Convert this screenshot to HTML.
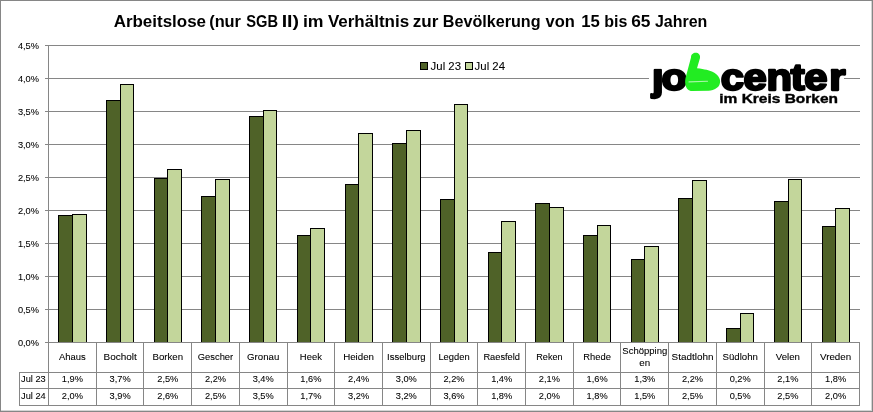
<!DOCTYPE html>
<html lang="de"><head><meta charset="utf-8"><title>Arbeitslose (nur SGB II)</title>
<style>html,body{margin:0;padding:0;background:#fff;overflow:hidden}svg{display:block}text{font-family:"Liberation Sans",sans-serif;fill:#000}.s{font-size:9.6px;stroke:#000;stroke-width:0.08px}.l{font-size:11.6px;stroke:#000;stroke-width:0.08px}.t{font-size:16px;font-weight:bold}</style></head><body>
<svg width="873" height="412" viewBox="0 0 873 412">
<rect x="0" y="0" width="873" height="412" fill="#fff"/>
<g shape-rendering="crispEdges" fill="#868686">
<rect x="0" y="0" width="873" height="1"/><rect x="0" y="0" width="1" height="412"/>
<rect x="871" y="1" width="1" height="410" fill="#d4d4d4"/><rect x="1" y="410" width="871" height="1" fill="#d4d4d4"/>
<rect x="872" y="0" width="1" height="412"/><rect x="0" y="411" width="873" height="1"/>
<rect x="45" y="45" width="815" height="1"/>
<rect x="45" y="78" width="815" height="1"/>
<rect x="45" y="111" width="815" height="1"/>
<rect x="45" y="144" width="815" height="1"/>
<rect x="45" y="177" width="815" height="1"/>
<rect x="45" y="210" width="815" height="1"/>
<rect x="45" y="243" width="815" height="1"/>
<rect x="45" y="276" width="815" height="1"/>
<rect x="45" y="309" width="815" height="1"/>
<rect x="48" y="45" width="1" height="361"/>
<rect x="96" y="342" width="1" height="64"/>
<rect x="143" y="342" width="1" height="64"/>
<rect x="191" y="342" width="1" height="64"/>
<rect x="239" y="342" width="1" height="64"/>
<rect x="287" y="342" width="1" height="64"/>
<rect x="334" y="342" width="1" height="64"/>
<rect x="382" y="342" width="1" height="64"/>
<rect x="430" y="342" width="1" height="64"/>
<rect x="477" y="342" width="1" height="64"/>
<rect x="525" y="342" width="1" height="64"/>
<rect x="573" y="342" width="1" height="64"/>
<rect x="620" y="342" width="1" height="64"/>
<rect x="668" y="342" width="1" height="64"/>
<rect x="716" y="342" width="1" height="64"/>
<rect x="764" y="342" width="1" height="64"/>
<rect x="811" y="342" width="1" height="64"/>
<rect x="859" y="342" width="1" height="64"/>
<rect x="19" y="372" width="841" height="1"/>
<rect x="19" y="388" width="841" height="1"/>
<rect x="19" y="405" width="841" height="1"/>
<rect x="19" y="372" width="1" height="34"/>
</g>
<g stroke="#000" stroke-width="1">
<rect x="58.5" y="215.5" width="14" height="127.0" fill="#4F6228"/>
<rect x="72.5" y="214.5" width="14" height="128.0" fill="#C3D69B"/>
<rect x="106.5" y="100.5" width="14" height="242.0" fill="#4F6228"/>
<rect x="120.5" y="84.5" width="13" height="258.0" fill="#C3D69B"/>
<rect x="154.5" y="178.5" width="13" height="164.0" fill="#4F6228"/>
<rect x="167.5" y="169.5" width="14" height="173.0" fill="#C3D69B"/>
<rect x="201.5" y="196.5" width="14" height="146.0" fill="#4F6228"/>
<rect x="215.5" y="179.5" width="14" height="163.0" fill="#C3D69B"/>
<rect x="249.5" y="116.5" width="14" height="226.0" fill="#4F6228"/>
<rect x="263.5" y="110.5" width="13" height="232.0" fill="#C3D69B"/>
<rect x="297.5" y="235.5" width="13" height="107.0" fill="#4F6228"/>
<rect x="310.5" y="228.5" width="14" height="114.0" fill="#C3D69B"/>
<rect x="345.5" y="184.5" width="13" height="158.0" fill="#4F6228"/>
<rect x="358.5" y="133.5" width="14" height="209.0" fill="#C3D69B"/>
<rect x="392.5" y="143.5" width="14" height="199.0" fill="#4F6228"/>
<rect x="406.5" y="130.5" width="14" height="212.0" fill="#C3D69B"/>
<rect x="440.5" y="199.5" width="14" height="143.0" fill="#4F6228"/>
<rect x="454.5" y="104.5" width="13" height="238.0" fill="#C3D69B"/>
<rect x="488.5" y="252.5" width="13" height="90.0" fill="#4F6228"/>
<rect x="501.5" y="221.5" width="14" height="121.0" fill="#C3D69B"/>
<rect x="535.5" y="203.5" width="14" height="139.0" fill="#4F6228"/>
<rect x="549.5" y="207.5" width="14" height="135.0" fill="#C3D69B"/>
<rect x="583.5" y="235.5" width="14" height="107.0" fill="#4F6228"/>
<rect x="597.5" y="225.5" width="13" height="117.0" fill="#C3D69B"/>
<rect x="631.5" y="259.5" width="13" height="83.0" fill="#4F6228"/>
<rect x="644.5" y="246.5" width="14" height="96.0" fill="#C3D69B"/>
<rect x="678.5" y="198.5" width="14" height="144.0" fill="#4F6228"/>
<rect x="692.5" y="180.5" width="14" height="162.0" fill="#C3D69B"/>
<rect x="726.5" y="328.5" width="14" height="14.0" fill="#4F6228"/>
<rect x="740.5" y="313.5" width="13" height="29.0" fill="#C3D69B"/>
<rect x="774.5" y="201.5" width="14" height="141.0" fill="#4F6228"/>
<rect x="788.5" y="179.5" width="13" height="163.0" fill="#C3D69B"/>
<rect x="822.5" y="226.5" width="13" height="116.0" fill="#4F6228"/>
<rect x="835.5" y="208.5" width="14" height="134.0" fill="#C3D69B"/>
</g>
<rect x="45" y="342" width="815" height="1" fill="#868686" shape-rendering="crispEdges"/>
<g class="s" text-anchor="end">
<text x="39" y="49.0" textLength="21.1" lengthAdjust="spacingAndGlyphs">4,5%</text>
<text x="39" y="82.0" textLength="21.1" lengthAdjust="spacingAndGlyphs">4,0%</text>
<text x="39" y="115.0" textLength="21.1" lengthAdjust="spacingAndGlyphs">3,5%</text>
<text x="39" y="148.0" textLength="21.1" lengthAdjust="spacingAndGlyphs">3,0%</text>
<text x="39" y="181.0" textLength="21.1" lengthAdjust="spacingAndGlyphs">2,5%</text>
<text x="39" y="214.0" textLength="21.1" lengthAdjust="spacingAndGlyphs">2,0%</text>
<text x="39" y="247.0" textLength="21.1" lengthAdjust="spacingAndGlyphs">1,5%</text>
<text x="39" y="280.0" textLength="21.1" lengthAdjust="spacingAndGlyphs">1,0%</text>
<text x="39" y="313.0" textLength="21.1" lengthAdjust="spacingAndGlyphs">0,5%</text>
<text x="39" y="346.0" textLength="21.1" lengthAdjust="spacingAndGlyphs">0,0%</text>
</g>
<g class="s" text-anchor="middle">
<text x="72.4" y="359.9" textLength="26.7" lengthAdjust="spacingAndGlyphs">Ahaus</text>
<text x="72.4" y="382.4" textLength="21.1" lengthAdjust="spacingAndGlyphs">1,9%</text>
<text x="72.4" y="399.2" textLength="21.1" lengthAdjust="spacingAndGlyphs">2,0%</text>
<text x="120.1" y="359.9" textLength="33.2" lengthAdjust="spacingAndGlyphs">Bocholt</text>
<text x="120.1" y="382.4" textLength="21.1" lengthAdjust="spacingAndGlyphs">3,7%</text>
<text x="120.1" y="399.2" textLength="21.1" lengthAdjust="spacingAndGlyphs">3,9%</text>
<text x="167.8" y="359.9" textLength="30.6" lengthAdjust="spacingAndGlyphs">Borken</text>
<text x="167.8" y="382.4" textLength="21.1" lengthAdjust="spacingAndGlyphs">2,5%</text>
<text x="167.8" y="399.2" textLength="21.1" lengthAdjust="spacingAndGlyphs">2,6%</text>
<text x="215.5" y="359.9" textLength="35.4" lengthAdjust="spacingAndGlyphs">Gescher</text>
<text x="215.5" y="382.4" textLength="21.1" lengthAdjust="spacingAndGlyphs">2,2%</text>
<text x="215.5" y="399.2" textLength="21.1" lengthAdjust="spacingAndGlyphs">2,5%</text>
<text x="263.2" y="359.9" textLength="32.2" lengthAdjust="spacingAndGlyphs">Gronau</text>
<text x="263.2" y="382.4" textLength="21.1" lengthAdjust="spacingAndGlyphs">3,4%</text>
<text x="263.2" y="399.2" textLength="21.1" lengthAdjust="spacingAndGlyphs">3,5%</text>
<text x="310.9" y="359.9" textLength="22.1" lengthAdjust="spacingAndGlyphs">Heek</text>
<text x="310.9" y="382.4" textLength="21.1" lengthAdjust="spacingAndGlyphs">1,6%</text>
<text x="310.9" y="399.2" textLength="21.1" lengthAdjust="spacingAndGlyphs">1,7%</text>
<text x="358.6" y="359.9" textLength="30.9" lengthAdjust="spacingAndGlyphs">Heiden</text>
<text x="358.6" y="382.4" textLength="21.1" lengthAdjust="spacingAndGlyphs">2,4%</text>
<text x="358.6" y="399.2" textLength="21.1" lengthAdjust="spacingAndGlyphs">3,2%</text>
<text x="406.3" y="359.9" textLength="38.6" lengthAdjust="spacingAndGlyphs">Isselburg</text>
<text x="406.3" y="382.4" textLength="21.1" lengthAdjust="spacingAndGlyphs">3,0%</text>
<text x="406.3" y="399.2" textLength="21.1" lengthAdjust="spacingAndGlyphs">3,2%</text>
<text x="454.0" y="359.9" textLength="31.2" lengthAdjust="spacingAndGlyphs">Legden</text>
<text x="454.0" y="382.4" textLength="21.1" lengthAdjust="spacingAndGlyphs">2,2%</text>
<text x="454.0" y="399.2" textLength="21.1" lengthAdjust="spacingAndGlyphs">3,6%</text>
<text x="501.7" y="359.9" textLength="36.6" lengthAdjust="spacingAndGlyphs">Raesfeld</text>
<text x="501.7" y="382.4" textLength="21.1" lengthAdjust="spacingAndGlyphs">1,4%</text>
<text x="501.7" y="399.2" textLength="21.1" lengthAdjust="spacingAndGlyphs">1,8%</text>
<text x="549.4" y="359.9" textLength="26.3" lengthAdjust="spacingAndGlyphs">Reken</text>
<text x="549.4" y="382.4" textLength="21.1" lengthAdjust="spacingAndGlyphs">2,1%</text>
<text x="549.4" y="399.2" textLength="21.1" lengthAdjust="spacingAndGlyphs">2,0%</text>
<text x="597.1" y="359.9" textLength="27.6" lengthAdjust="spacingAndGlyphs">Rhede</text>
<text x="597.1" y="382.4" textLength="21.1" lengthAdjust="spacingAndGlyphs">1,6%</text>
<text x="597.1" y="399.2" textLength="21.1" lengthAdjust="spacingAndGlyphs">1,8%</text>
<text x="644.8" y="353.7" textLength="44.9" lengthAdjust="spacingAndGlyphs">Schöpping</text>
<text x="644.8" y="366.4" textLength="10.9" lengthAdjust="spacingAndGlyphs">en</text>
<text x="644.8" y="382.4" textLength="21.1" lengthAdjust="spacingAndGlyphs">1,3%</text>
<text x="644.8" y="399.2" textLength="21.1" lengthAdjust="spacingAndGlyphs">1,5%</text>
<text x="692.5" y="359.9" textLength="41.9" lengthAdjust="spacingAndGlyphs">Stadtlohn</text>
<text x="692.5" y="382.4" textLength="21.1" lengthAdjust="spacingAndGlyphs">2,2%</text>
<text x="692.5" y="399.2" textLength="21.1" lengthAdjust="spacingAndGlyphs">2,5%</text>
<text x="740.2" y="359.9" textLength="35.4" lengthAdjust="spacingAndGlyphs">Südlohn</text>
<text x="740.2" y="382.4" textLength="21.1" lengthAdjust="spacingAndGlyphs">0,2%</text>
<text x="740.2" y="399.2" textLength="21.1" lengthAdjust="spacingAndGlyphs">0,5%</text>
<text x="787.9" y="359.9" textLength="24.2" lengthAdjust="spacingAndGlyphs">Velen</text>
<text x="787.9" y="382.4" textLength="21.1" lengthAdjust="spacingAndGlyphs">2,1%</text>
<text x="787.9" y="399.2" textLength="21.1" lengthAdjust="spacingAndGlyphs">2,5%</text>
<text x="835.6" y="359.9" textLength="31.2" lengthAdjust="spacingAndGlyphs">Vreden</text>
<text x="835.6" y="382.4" textLength="21.1" lengthAdjust="spacingAndGlyphs">1,8%</text>
<text x="835.6" y="399.2" textLength="21.1" lengthAdjust="spacingAndGlyphs">2,0%</text>
</g>
<g class="s">
<text x="21" y="382.4" textLength="24.7" lengthAdjust="spacingAndGlyphs">Jul 23</text>
<text x="21" y="399.2" textLength="24.7" lengthAdjust="spacingAndGlyphs">Jul 24</text>
</g>
<rect x="420.5" y="62.5" width="7" height="7" fill="#4F6228" stroke="#000" stroke-width="1"/>
<rect x="465.5" y="62.5" width="7" height="7" fill="#C3D69B" stroke="#000" stroke-width="1"/>
<text class="l" x="430.6" y="69.8" textLength="30.4" lengthAdjust="spacingAndGlyphs">Jul 23</text>
<text class="l" x="474.6" y="69.8" textLength="30.4" lengthAdjust="spacingAndGlyphs">Jul 24</text>
<text class="t" x="113.7" y="27" textLength="92.3" lengthAdjust="spacingAndGlyphs">Arbeitslose</text>
<text class="t" x="209.2" y="27" textLength="31.8" lengthAdjust="spacingAndGlyphs">(nur</text>
<text class="t" x="246.2" y="27" textLength="31.8" lengthAdjust="spacingAndGlyphs">SGB</text>
<text class="t" x="281.7" y="27" textLength="17.3" lengthAdjust="spacingAndGlyphs">II)</text>
<text class="t" x="302.9" y="27" textLength="20.6" lengthAdjust="spacingAndGlyphs">im</text>
<text class="t" x="327.9" y="27" textLength="81.2" lengthAdjust="spacingAndGlyphs">Verhältnis</text>
<text class="t" x="412.8" y="27" textLength="25.6" lengthAdjust="spacingAndGlyphs">zur</text>
<text class="t" x="442.8" y="27" textLength="97.7" lengthAdjust="spacingAndGlyphs">Bevölkerung</text>
<text class="t" x="545.5" y="27" textLength="29.3" lengthAdjust="spacingAndGlyphs">von</text>
<text class="t" x="581.2" y="27" textLength="18.6" lengthAdjust="spacingAndGlyphs">15</text>
<text class="t" x="604.2" y="27" textLength="23.1" lengthAdjust="spacingAndGlyphs">bis</text>
<text class="t" x="631.2" y="27" textLength="19.3" lengthAdjust="spacingAndGlyphs">65</text>
<text class="t" x="655.0" y="27" textLength="52.3" lengthAdjust="spacingAndGlyphs">Jahren</text>
<rect x="649" y="50" width="195" height="58" fill="#fff"/>
<text transform="scale(1.115,1)" y="90.3" font-size="37.5" font-weight="bold" text-anchor="middle" stroke="#000" stroke-width="2.3" stroke-linejoin="round"><tspan x="589.96">j</tspan><tspan x="604.66">o</tspan><tspan x="628.70" fill="#22EC22" stroke="none">b</tspan><tspan x="656.86">c</tspan><tspan x="677.31">e</tspan><tspan x="699.01">n</tspan><tspan x="715.34">t</tspan><tspan x="731.84">e</tspan><tspan x="751.03">r</tspan></text>
<rect x="648" y="50" width="20" height="18.5" fill="#fff"/>
<path d="M691 57.5 C691 54.3 693.3 52.8 695.6 52.8 C698.4 52.8 700.6 54.8 700 58 L697 68.2 C701 68.6 704 69.2 706.6 69.8 C711 71 714.5 72.6 716.6 74.4 C718.8 76.4 720 78.6 720.1 81 C720.2 84 719 86.2 717.3 87.6 C714.5 89.8 711 90.8 708.7 90.8 L692 91 C688.6 91 686 88.6 685.3 84 C684.9 81 685.3 79 685.8 77 Z" fill="#22EC22"/>
<path d="M689 81.9 L707.5 81.2" stroke="#a8f5a8" stroke-width="1.1" fill="none" stroke-linecap="round"/>
<text x="719.3" y="102.8" font-size="12.3" font-weight="bold" stroke="#000" stroke-width="0.35" textLength="118.7" lengthAdjust="spacingAndGlyphs">im Kreis Borken</text>
</svg></body></html>
